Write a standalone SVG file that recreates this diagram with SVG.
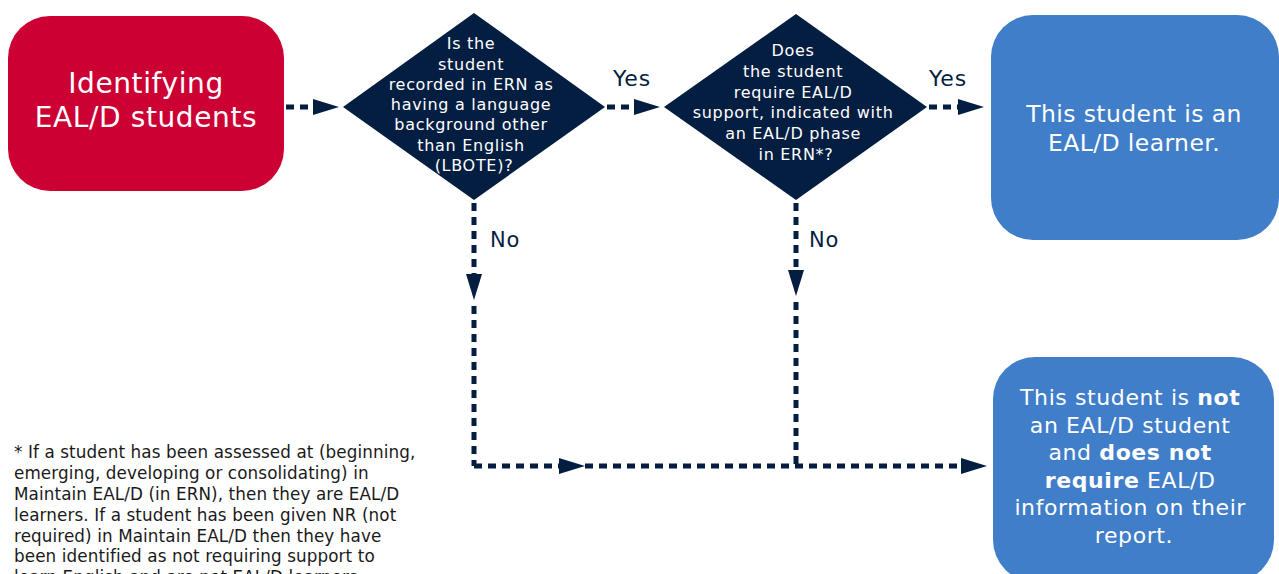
<svg xmlns="http://www.w3.org/2000/svg" width="1279" height="574" viewBox="0 0 1279 574">
<style>
text{font-family:"DejaVu Sans","Open Sans","Liberation Sans",sans-serif;}
.w{fill:#ffffff;text-anchor:middle;}
.lbl{fill:#041E42;font-size:22px;letter-spacing:0.8px;}
.fn{fill:#1a1a1a;font-size:16.8px;letter-spacing:0.1px;}
.dt{font-size:16px;letter-spacing:0.7px;}
.con{fill:none;stroke:#041E42;stroke-width:5;stroke-dasharray:8 6;}
.b{font-weight:bold;}
</style>
<defs>
<marker id="ah" viewBox="0 0 26 16" markerWidth="26" markerHeight="16" refX="6" refY="8" orient="auto" markerUnits="userSpaceOnUse">
<path d="M0,0 L26,8 L0,16 z" fill="#041E42"/>
</marker>
</defs>
<rect width="1279" height="574" fill="#ffffff"/>
<g id="connectors">
<line class="con" x1="286" y1="107" x2="319" y2="107" marker-end="url(#ah)"/>
<line class="con" x1="607" y1="107" x2="640" y2="107" marker-end="url(#ah)"/>
<line class="con" x1="929" y1="107" x2="964" y2="107" marker-end="url(#ah)"/>
<line class="con" x1="474" y1="203" x2="474" y2="280" marker-end="url(#ah)"/>
<line class="con" x1="474" y1="306" x2="474" y2="466"/>
<line class="con" x1="796" y1="203" x2="796" y2="276" marker-end="url(#ah)"/>
<line class="con" x1="796" y1="302" x2="796" y2="466"/>
<line class="con" x1="474" y1="466" x2="565" y2="466" marker-end="url(#ah)"/>
<line class="con" x1="585" y1="466" x2="967" y2="466" marker-end="url(#ah)"/>
<text class="lbl" x="613" y="86">Yes</text>
<text class="lbl" x="929" y="86">Yes</text>
<text class="lbl" x="490" y="247" style="font-size:21px">No</text>
<text class="lbl" x="809" y="247" style="font-size:21px">No</text>
</g>
<g id="start">
<rect x="8" y="16" width="276" height="175" rx="42" fill="#CC0033"/>
<text class="w" x="146" y="93" font-size="28" letter-spacing="0.6">Identifying</text>
<text class="w" x="146" y="127" font-size="28" letter-spacing="0.6">EAL/D students</text>
</g>
<g id="q1">
<polygon points="474,13 605,107 474,200 343,107" fill="#041E42"/>
<text class="w dt">
<tspan x="474" y="49">Is the</tspan>
<tspan x="474" y="69.5">student</tspan>
<tspan x="474" y="89.5">recorded in ERN as</tspan>
<tspan x="474" y="110">having a language</tspan>
<tspan x="474" y="130">background other</tspan>
<tspan x="474" y="150.5">than English</tspan>
<tspan x="474" y="170.5">(LBOTE)?</tspan>
</text>
</g>
<g id="q2">
<polygon points="796,14 927,107 796,200 664,107" fill="#041E42"/>
<text class="w dt">
<tspan x="796" y="56">Does</tspan>
<tspan x="796" y="77">the student</tspan>
<tspan x="796" y="97.5">require EAL/D</tspan>
<tspan x="796" y="118">support, indicated with</tspan>
<tspan x="796" y="139">an EAL/D phase</tspan>
<tspan x="796" y="160">in ERN*?</tspan>
</text>
</g>
<g id="yes-result">
<rect x="991" y="15" width="288" height="225" rx="42" fill="#407EC9"/>
<text class="w" x="1134" y="122" font-size="23.5" letter-spacing="0.4">This student is an</text>
<text class="w" x="1134" y="151" font-size="23.5" letter-spacing="0.4">EAL/D learner.</text>
</g>
<g id="no-result">
<rect x="993" y="357" width="281" height="225" rx="42" fill="#407EC9"/>
<text class="w" font-size="22" letter-spacing="0.6">
<tspan x="1134" y="405">This student is <tspan class="b">not</tspan></tspan>
<tspan x="1134" y="432.5">an EAL/D student</tspan>
<tspan x="1134" y="460">and <tspan class="b">does not</tspan></tspan>
<tspan x="1134" y="487.5"><tspan class="b">require</tspan> EAL/D</tspan>
<tspan x="1134" y="515">information on their</tspan>
<tspan x="1134" y="542.5">report.</tspan>
</text>
</g>
<g id="footnote">
<text class="fn">
<tspan x="14" y="458">* If a student has been assessed at (beginning,</tspan>
<tspan x="14" y="479">emerging, developing or consolidating) in</tspan>
<tspan x="14" y="500">Maintain EAL/D (in ERN), then they are EAL/D</tspan>
<tspan x="14" y="521">learners. If a student has been given NR (not</tspan>
<tspan x="14" y="541.5">required) in Maintain EAL/D then they have</tspan>
<tspan x="14" y="562">been identified as not requiring support to</tspan>
<tspan x="14" y="583">learn English and are not EAL/D learners.</tspan>
</text>
</g>
</svg>
